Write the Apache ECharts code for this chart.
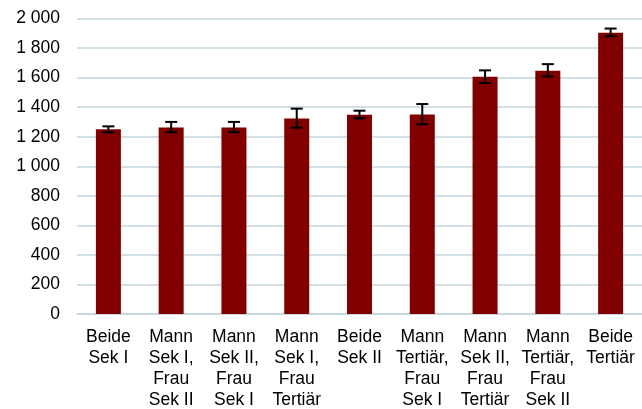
<!DOCTYPE html>
<html>
<head>
<meta charset="utf-8">
<script src="https://cdn.jsdelivr.net/npm/echarts@6/dist/echarts.min.js"></script>
<style>
  html, body { margin: 0; padding: 0; background: #fff; }
  #chart { width: 642px; height: 409px; }
</style>
</head>
<body>
<div id="chart"></div>
<script>
// Kategorien (Bildung Mann / Frau)
const categories = [
  'Beide\nSek I',
  'Mann\nSek I,\nFrau\nSek II',
  'Mann\nSek II,\nFrau\nSek I',
  'Mann\nSek I,\nFrau\nTertiär',
  'Beide\nSek II',
  'Mann\nTertiär,\nFrau\nSek I',
  'Mann\nSek II,\nFrau\nTertiär',
  'Mann\nTertiär,\nFrau\nSek II',
  'Beide\nTertiär'
];
const values = [1250, 1263, 1263, 1324, 1349, 1351, 1606, 1646, 1903];
const errLow = [1230, 1230, 1230, 1261, 1324, 1284, 1563, 1608, 1880];
const errHigh = [1270, 1300, 1300, 1390, 1376, 1421, 1649, 1691, 1932];

const errData = categories.map((c, i) => [i, errLow[i], errHigh[i]]);

const chart = echarts.init(document.getElementById('chart'), null, { renderer: 'canvas' });

chart.setOption({
  animation: false,
  grid: { left: 77, right: 0, top: 18.5, bottom: 95, outerBoundsMode: 'none' },
  xAxis: {
    type: 'category',
    data: categories,
    axisLine: { lineStyle: { color: '#c5d5de', width: 1.5 } },
    axisTick: { show: false },
    axisLabel: {
      interval: 0,
      color: '#000',
      fontFamily: 'Liberation Sans, Arial, sans-serif',
      fontSize: 17.5,
      lineHeight: 21,
      margin: 12.5
    }
  },
  yAxis: {
    type: 'value',
    min: 0,
    max: 2000,
    interval: 200,
    axisLine: { show: false },
    axisTick: { show: false },
    splitLine: { lineStyle: { color: '#c5d5de', width: 1.5 } },
    axisLabel: {
      color: '#000',
      fontFamily: 'Liberation Sans, Arial, sans-serif',
      fontSize: 17.5,
      margin: 17,
      formatter: v => String(v).replace(/\B(?=(\d{3})+(?!\d))/g, ' ')
    }
  },
  series: [
    {
      type: 'bar',
      data: values,
      barWidth: 25,
      itemStyle: { color: '#800000' }
    },
    {
      type: 'custom',
      data: errData,
      z: 10,
      renderItem: (params, api) => {
        const x = api.value(0);
        const lo = api.coord([x, api.value(1)]);
        const hi = api.coord([x, api.value(2)]);
        const half = 6;
        const style = { stroke: '#000', lineWidth: 2 };
        return {
          type: 'group',
          children: [
            { type: 'line', shape: { x1: lo[0], y1: lo[1], x2: hi[0], y2: hi[1] }, style },
            { type: 'line', shape: { x1: hi[0] - half, y1: hi[1], x2: hi[0] + half, y2: hi[1] }, style },
            { type: 'line', shape: { x1: lo[0] - half, y1: lo[1], x2: lo[0] + half, y2: lo[1] }, style }
          ]
        };
      }
    }
  ]
});
</script>
</body>
</html>
